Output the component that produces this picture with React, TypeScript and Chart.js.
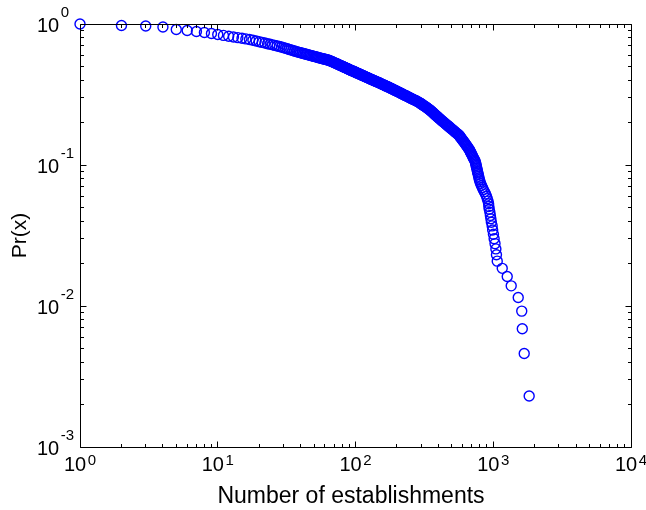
import { useEffect, useRef } from "react";
import { Chart, registerables } from "chart.js";

Chart.register(...registerables);

// Number of establishments (x) and complementary cumulative probability Pr(x) (y)
const ESTABLISHMENTS: number[] = [
  1, 2, 3, 4, 5, 6, 7, 8, 9, 10,
  11, 12, 13, 14, 15, 16, 17, 18, 19, 20,
  21, 22, 23, 24, 25, 26, 27, 28, 29, 30,
  31, 32, 33, 34, 35, 36, 37, 38, 39, 40,
  41, 42, 43, 44, 45, 46, 47, 48, 49, 50,
  51, 52, 53, 54, 55, 56, 57, 58, 59, 60,
  61, 62, 63, 64, 65, 66, 67, 68, 69, 70,
  71, 72, 73, 74, 75, 76, 77, 78, 79, 80,
  81, 82, 83, 84, 85, 86, 87, 88, 89,
  90, 91, 92, 93, 94, 95, 97, 98, 99, 100,
  101, 102, 104, 105, 106, 107, 109, 110, 111, 112,
  114, 115, 117, 118, 120, 121, 123, 124, 126, 127,
  129, 131, 133, 134, 136, 138, 140, 142, 144, 146,
  148, 150, 152, 154, 156, 158, 161, 163, 165, 167,
  170, 172, 175, 177, 180, 182, 185, 187, 190, 192,
  195, 198, 201, 204, 207, 210, 213, 216, 219, 222,
  226, 229, 233, 236, 240, 244, 248, 252, 256, 260,
  264, 268, 273, 277, 282, 286, 291, 295, 299, 302,
  306, 310, 314, 318, 323, 327, 331, 335, 340, 344,
  348, 352, 356, 360, 364, 368, 372, 376, 380, 385,
  390, 394, 399, 404, 409, 414, 420, 425, 431, 437,
  444, 450, 456, 463, 470, 477, 484, 491, 499, 507,
  515, 523, 531, 540, 550, 559, 568, 573, 579, 585,
  592, 599, 606, 613, 621, 628, 635, 643, 651, 659,
  668, 674, 681, 687, 694, 701, 708, 715, 723, 731,
  739, 743, 748, 751, 755, 759, 764, 768, 773, 778,
  783, 788, 793,
  801, 810, 821, 834, 846, 862, 878, 893, 905, 917,
  925, 929, 935, 945, 953, 961, 969, 982, 990, 1003,
  1015, 1030, 1045, 1055, 1069, 1162, 1263, 1350, 1518, 1610,
  1625, 1678, 1823,
];

const PROBABILITY: number[] = [
  1.0, 0.976, 0.968, 0.952, 0.915, 0.899, 0.885, 0.87, 0.856, 0.8424,
  0.83, 0.8193, 0.8093, 0.8, 0.7916, 0.7838, 0.7766, 0.7668, 0.7573, 0.7486,
  0.7402, 0.7324, 0.7251, 0.7181, 0.7115, 0.705, 0.699, 0.6933, 0.6864, 0.6797,
  0.6731, 0.6668, 0.6607, 0.6552, 0.6495, 0.6441, 0.639, 0.634, 0.6291, 0.6249,
  0.6209, 0.617, 0.6133, 0.6095, 0.6061, 0.6024, 0.5993, 0.5959, 0.5928, 0.5894,
  0.5865, 0.5835, 0.5806, 0.5777, 0.575, 0.5722, 0.5697, 0.5672, 0.5646, 0.5621,
  0.5596, 0.5571, 0.5549, 0.5526, 0.5495, 0.5464, 0.5428, 0.5392, 0.5359, 0.5326,
  0.5293, 0.526, 0.5229, 0.5198, 0.5166, 0.5134, 0.5106, 0.5078, 0.505, 0.5022,
  0.4995, 0.4967, 0.494, 0.4913, 0.4888, 0.4863, 0.484, 0.4816, 0.4787,
  0.4758, 0.4734, 0.4711, 0.4688, 0.4665, 0.4642, 0.4619, 0.4596, 0.4573, 0.455,
  0.4527, 0.4503, 0.448, 0.4457, 0.4434, 0.4411, 0.4388, 0.4365, 0.4342, 0.4319,
  0.4296, 0.4273, 0.4249, 0.4226, 0.4203, 0.418, 0.4157, 0.4134, 0.4111, 0.4088,
  0.4065, 0.4042, 0.4018, 0.3995, 0.3972, 0.3949, 0.3926, 0.3903, 0.388, 0.3857,
  0.3834, 0.3811, 0.3788, 0.3764, 0.3741, 0.3718, 0.3695, 0.3672, 0.3649, 0.3626,
  0.3603, 0.358, 0.3557, 0.3533, 0.351, 0.3487, 0.3464, 0.3441, 0.3418, 0.3395,
  0.3372, 0.3349, 0.3326, 0.3303, 0.3279, 0.3256, 0.3233, 0.321, 0.3187, 0.3164,
  0.3141, 0.3118, 0.3095, 0.3072, 0.3048, 0.3025, 0.3002, 0.2979, 0.2956, 0.2933,
  0.291, 0.2887, 0.2864, 0.2841, 0.2818, 0.2794, 0.2771, 0.2748, 0.2725, 0.2702,
  0.2679, 0.2656, 0.2633, 0.261, 0.2587, 0.2564, 0.254, 0.2517, 0.2494, 0.2471,
  0.2448, 0.2425, 0.2402, 0.2379, 0.2356, 0.2333, 0.2309, 0.2286, 0.2263, 0.224,
  0.2217, 0.2194, 0.2171, 0.2148, 0.2125, 0.2102, 0.2079, 0.2055, 0.2032, 0.2009,
  0.1986, 0.1963, 0.194, 0.1917, 0.1894, 0.1871, 0.1848, 0.1824, 0.1801, 0.1778,
  0.1755, 0.1732, 0.1709, 0.1686, 0.1663, 0.164, 0.1617, 0.1594, 0.157, 0.1547,
  0.1524, 0.1501, 0.1478, 0.1455, 0.1432, 0.1409, 0.1386, 0.1363, 0.1339, 0.1316,
  0.1293, 0.127, 0.1247, 0.1224, 0.1201, 0.1178, 0.1155, 0.1132, 0.1109, 0.1085,
  0.1062, 0.1039, 0.1016, 0.0993, 0.097, 0.0947, 0.0924, 0.0901, 0.0878, 0.0855,
  0.0831, 0.0808, 0.0785,
  0.0762, 0.0739, 0.0716, 0.0693, 0.067, 0.0647, 0.0624, 0.06, 0.0577, 0.0554,
  0.0531, 0.0508, 0.0485, 0.0462, 0.0439, 0.0416, 0.0393, 0.037, 0.0346, 0.0323,
  0.03, 0.0277, 0.0254, 0.0231, 0.0208, 0.0185, 0.0162, 0.0139, 0.0115, 0.0092,
  0.0069, 0.0046, 0.0023,
];

// Tick decades (exponents of 10)
const X_DECADES: number[] = [0, 1, 2, 3, 4];
const Y_DECADES: number[] = [-3, -2, -1, 0];
const MINOR_MULTIPLIERS: number[] = [2, 3, 4, 5, 6, 7, 8, 9];

const X_TITLE = "Number of establishments";
const Y_TITLE = "Pr(x)";

const FONT_FAMILY = "'Liberation Sans', Arial, Helvetica, sans-serif";

export default function App() {
  const canvasRef = useRef<HTMLCanvasElement | null>(null);

  useEffect(() => {
    document.body.style.margin = "0";
    const canvas = canvasRef.current;
    if (!canvas) return;

    const points = ESTABLISHMENTS.map((x, i) => ({ x, y: PROBABILITY[i] }));

    const matlabAxes = {
      id: "matlabAxes",
      afterDatasetsDraw(chart: any) {
        const { ctx, chartArea: a, scales } = chart;
        const xs = scales.x;
        const ys = scales.y;
        const L = Math.floor(a.left) + 0.5;
        const R = Math.floor(a.right) + 0.5;
        const T = Math.floor(a.top) + 0.5;
        const B = Math.floor(a.bottom) + 0.5;
        ctx.save();
        ctx.strokeStyle = "#000000";
        ctx.lineWidth = 1;
        ctx.beginPath();
        ctx.rect(L, T, R - L, B - T);
        ctx.stroke();

        const MAJOR = 6;
        const MINOR = 3.5;
        ctx.beginPath();
        X_DECADES.forEach((d) => {
          const vals: Array<[number, number]> = [[Math.pow(10, d), MAJOR]];
          if (d < X_DECADES[X_DECADES.length - 1]) {
            MINOR_MULTIPLIERS.forEach((m) => vals.push([m * Math.pow(10, d), MINOR]));
          }
          vals.forEach(([v, len]) => {
            const px = Math.floor(xs.getPixelForValue(v)) + 0.5;
            ctx.moveTo(px, B);
            ctx.lineTo(px, B - len);
            ctx.moveTo(px, T);
            ctx.lineTo(px, T + len);
          });
        });
        Y_DECADES.forEach((d) => {
          const vals: Array<[number, number]> = [[Math.pow(10, d), MAJOR]];
          if (d < Y_DECADES[Y_DECADES.length - 1]) {
            MINOR_MULTIPLIERS.forEach((m) => vals.push([m * Math.pow(10, d), MINOR]));
          }
          vals.forEach(([v, len]) => {
            const py = Math.floor(ys.getPixelForValue(v)) + 0.5;
            ctx.moveTo(L, py);
            ctx.lineTo(L + len, py);
            ctx.moveTo(R, py);
            ctx.lineTo(R - len, py);
          });
        });
        ctx.stroke();

        ctx.fillStyle = "#000000";
        ctx.textAlign = "left";
        ctx.textBaseline = "alphabetic";
        const baseFont = `20px ${FONT_FAMILY}`;
        const expFont = `15px ${FONT_FAMILY}`;

        X_DECADES.forEach((d) => {
          const px = xs.getPixelForValue(Math.pow(10, d));
          ctx.font = baseFont;
          const wBase = ctx.measureText("10").width;
          ctx.font = expFont;
          const expText = String(d);
          const wExp = ctx.measureText(expText).width;
          const start = px - (wBase + 1.5 + wExp) / 2;
          ctx.font = baseFont;
          ctx.fillText("10", start, a.bottom + 24);
          ctx.font = expFont;
          ctx.fillText(expText, start + wBase + 1.5, a.bottom + 18);
        });

        Y_DECADES.forEach((d) => {
          const py = ys.getPixelForValue(Math.pow(10, d));
          ctx.font = baseFont;
          const wBase = ctx.measureText("10").width;
          ctx.fillText("10", 37, py + 8);
          ctx.font = expFont;
          ctx.fillText(String(d), 37 + wBase + 1.5, py - 7.5);
        });

        ctx.font = `23px ${FONT_FAMILY}`;
        ctx.textAlign = "center";
        ctx.fillText(X_TITLE, 351, 503);

        ctx.save();
        ctx.translate(26, (a.top + a.bottom) / 2);
        ctx.rotate(-Math.PI / 2);
        ctx.font = `21px ${FONT_FAMILY}`;
        ctx.textAlign = "center";
        ctx.fillText(Y_TITLE, 0, 0);
        ctx.restore();

        ctx.restore();
      },
    };

    const chart = new Chart(canvas, {
      type: "scatter",
      data: {
        datasets: [
          {
            data: points,
            showLine: false,
            pointStyle: "circle",
            pointRadius: 5,
            pointBorderWidth: 1.4,
            pointBorderColor: "#0000ff",
            pointBackgroundColor: "rgba(0,0,0,0)",
            clip: false,
          } as any,
        ],
      },
      options: {
        responsive: false,
        animation: false,
        events: [],
        layout: { padding: { left: 80, right: 15, top: 24, bottom: 63 } },
        plugins: {
          legend: { display: false },
          tooltip: { enabled: false },
          title: { display: false },
        },
        scales: {
          x: {
            type: "logarithmic",
            min: 1,
            max: 10000,
            ticks: { display: false },
            grid: { display: false, drawTicks: false },
            border: { display: false },
            title: { display: false },
            afterFit(scale: any) {
              scale.height = 0;
            },
          },
          y: {
            type: "logarithmic",
            min: 0.001,
            max: 1,
            ticks: { display: false },
            grid: { display: false, drawTicks: false },
            border: { display: false },
            title: { display: false },
            afterFit(scale: any) {
              scale.width = 0;
            },
          },
        },
      } as any,
      plugins: [matlabAxes],
    });

    return () => chart.destroy();
  }, []);

  return (
    <div style={{ width: 646, height: 510, background: "#ffffff" }}>
      <canvas ref={canvasRef} width={646} height={510} style={{ display: "block" }} />
    </div>
  );
}
